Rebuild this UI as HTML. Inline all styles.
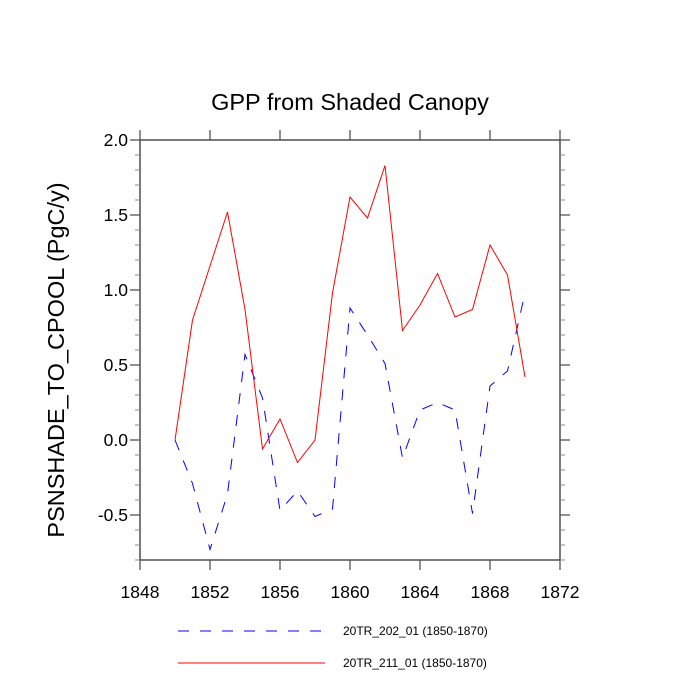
<!DOCTYPE html>
<html><head><meta charset="utf-8"><style>
body{margin:0;background:#fff}
svg{display:block;font-family:"Liberation Sans",sans-serif}
</style></head><body>
<svg id="chart" width="700" height="700">
<rect x="0" y="0" width="700" height="700" fill="#fff"/>
<text x="350" y="110" text-anchor="middle" font-size="23.5">GPP from Shaded Canopy</text>
<text transform="translate(64,360) rotate(-90)" text-anchor="middle" font-size="23.5">PSNSHADE_TO_CPOOL  (PgC/y)</text>
<g id="axes"></g>
<g id="series"></g>
<g>
<line x1="178" y1="631" x2="328" y2="631" stroke="#00f" stroke-width="1" stroke-dasharray="11,11"/>
<text x="343" y="635" font-size="12">20TR_202_01 (1850-1870)</text>
<line x1="178" y1="663" x2="325" y2="663" stroke="#f00" stroke-width="1"/>
<text x="343" y="667" font-size="12">20TR_211_01 (1850-1870)</text>
</g>
</svg>
<script>
const years=[1850,1851,1852,1853,1854,1855,1856,1857,1858,1859,1860,1861,1862,1863,1864,1865,1866,1867,1868,1869,1870];
const red211=[0,0.80,1.16,1.52,0.87,-0.06,0.14,-0.15,0,0.98,1.62,1.48,1.83,0.73,0.90,1.11,0.82,0.87,1.30,1.10,0.42];
const blue202=[0,-0.29,-0.73,-0.36,0.57,0.28,-0.47,-0.34,-0.51,-0.46,0.88,0.70,0.51,-0.12,0.20,0.25,0.20,-0.49,0.36,0.46,0.98];
const xTicks=[1848,1852,1856,1860,1864,1868,1872];
const yTicks=[-0.5,0,0.5,1.0,1.5,2.0];
const yTickLabels=["-0.5","0.0","0.5","1.0","1.5","2.0"];
const L=140,R=560,T=140,B=560,x0=1848,x1=1872,y0=-0.8,y1=2.0;
const sx=v=>L+(v-x0)/(x1-x0)*(R-L);
const sy=v=>B-(v-y0)/(y1-y0)*(B-T);
const NS="http://www.w3.org/2000/svg";
function mk(tag,attrs,parent){const e=document.createElementNS(NS,tag);for(const k in attrs)e.setAttribute(k,attrs[k]);parent.appendChild(e);return e;}
const ax=document.getElementById('axes');
const frame=mk('rect',{x:L,y:T,width:R-L,height:B-T,fill:'none',stroke:'#333','stroke-width':1.3},ax);


xTicks.forEach(v=>{
 const x=sx(v);
 const t1=mk('line',{x1:x,y1:B,x2:x,y2:B+10,stroke:'#555','stroke-width':1.3},ax);
 
 
 const t2=mk('line',{x1:x,y1:T,x2:x,y2:T-10,stroke:'#555','stroke-width':1.3},ax);
 
 
 const tx=mk('text',{x:x,y:B+38,'text-anchor':'middle','font-size':17.5},ax);
 tx.textContent=v;
 
 
});
for(let i=-8;i<=20;i++){
 const v=i/10,y=sy(v);
 const major=(i%5===0);
 const len=major?10:5;
 [[L,L-len],[R,R+len]].forEach(p=>{
  const t=mk('line',{x1:p[0],y1:y,x2:p[1],y2:y,stroke:major?'#555':'#888','stroke-width':major?1.3:1},ax);
  
  
 });
}
yTicks.forEach((v,i)=>{
 const t=mk('text',{x:L-12,y:sy(v)+6,'text-anchor':'end','font-size':17.5},ax);
 t.textContent=yTickLabels[i];
 
 
});
const se=document.getElementById('series');
const pts=a=>a.map((v,i)=>sx(years[i]).toFixed(1)+','+sy(v).toFixed(1)).join(' ');
const b=mk('polyline',{points:pts(blue202),fill:'none',stroke:'#00f','stroke-width':1,'stroke-dasharray':'11,11'},se);


const r=mk('polyline',{points:pts(red211),fill:'none',stroke:'#f00','stroke-width':1},se);


</script>
</body></html>
